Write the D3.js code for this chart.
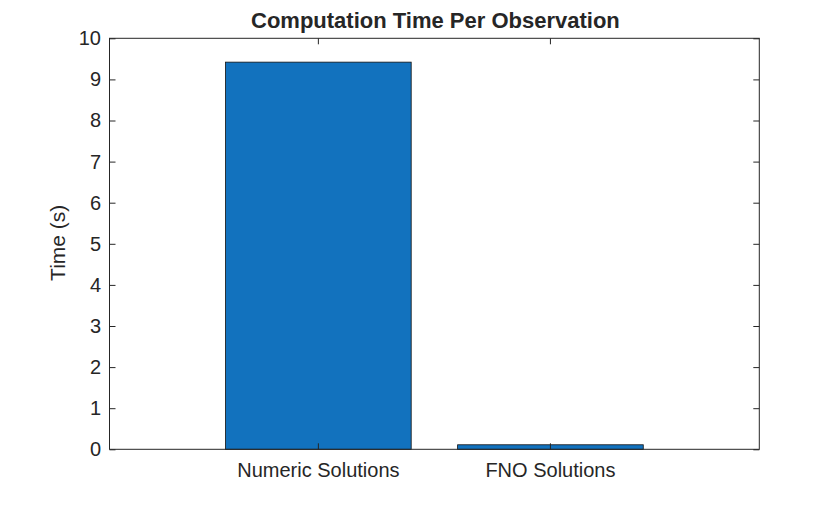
<!DOCTYPE html>
<html>
<head>
<meta charset="utf-8">
<script src="https://cdn.jsdelivr.net/npm/d3@7"></script>
<style>
  body { margin: 0; background: #fff; }
  text { font-family: "Liberation Sans", Arial, sans-serif; fill: #262626; }
</style>
</head>
<body>
<div id="chart"></div>
<script>
// chart data
const categories = ["Numeric Solutions", "FNO Solutions"];
const times = [9.42, 0.11];
const yTicks = [0, 1, 2, 3, 4, 5, 6, 7, 8, 9, 10];

let margin = { top: 38.3, right: 80.7, bottom: 56.7, left: 109.5 };
let W = 840, H = 506;
let width = W - margin.left - margin.right,
    height = H - margin.top - margin.bottom;
const axisColor = "#262626";

let svg = d3.select("#chart").append("svg")
    .attr("width", W)
    .attr("height", H);

let g = svg.append("g")
    .attr("transform", `translate(${margin.left}, ${margin.top})`);

let xScale = d3.scaleBand()
    .domain(categories)
    .range([0, width])
    .paddingInner(0.2)
    .paddingOuter(0.5);

let yScale = d3.scaleLinear()
    .domain([0, 10])
    .range([height, 0]);

// bars
g.selectAll(".bar")
    .data(categories.map((c, i) => ({ cat: c, t: times[i] })))
    .enter().append("rect")
    .attr("class", "bar")
    .attr("x", d => xScale(d.cat))
    .attr("width", xScale.bandwidth())
    .attr("y", d => yScale(d.t))
    .attr("height", d => yScale(0) - yScale(d.t))
    .style("fill", "#1272be")
    .style("stroke", "#111")
    .style("stroke-width", 0.8);

// axes, MATLAB style: ticks inward, on all four sides
let yAxis = d3.axisLeft(yScale).tickValues(yTicks).tickSizeInner(-6).tickSizeOuter(0).tickPadding(8.5);
let yAxisR = d3.axisRight(yScale).tickValues(yTicks).tickSizeInner(-6).tickSizeOuter(0).tickFormat("");
let xAxis = d3.axisBottom(xScale).tickSizeInner(-6).tickSizeOuter(0).tickPadding(13.5);
let xAxisT = d3.axisTop(xScale).tickSizeInner(-6).tickSizeOuter(0).tickFormat("");

g.append("g").attr("class", "y-axis").call(yAxis);
g.append("g").attr("transform", `translate(${width},0)`).call(yAxisR);
g.append("g").attr("class", "x-axis").attr("transform", `translate(0,${height})`).call(xAxis);
g.append("g").call(xAxisT);

g.selectAll(".domain").remove();
g.selectAll(".tick line").attr("stroke", axisColor);
g.selectAll(".tick text").style("font-size", "20px").attr("fill", axisColor);

g.append("rect")
    .attr("width", width)
    .attr("height", height)
    .attr("fill", "none")
    .attr("stroke", axisColor)
    .attr("stroke-width", 1);

// title
svg.append("text")
    .attr("x", margin.left + width / 2 + 1)
    .attr("y", 27.5)
    .attr("text-anchor", "middle")
    .style("font-size", "22px")
    .style("font-weight", "bold")
    .text("Computation Time Per Observation");

// y label
svg.append("text")
    .attr("transform", `translate(65, ${margin.top + height / 2 - 1}) rotate(-90)`)
    .attr("text-anchor", "middle")
    .style("font-size", "21px")
    .text("Time (s)");
</script>
</body>
</html>
